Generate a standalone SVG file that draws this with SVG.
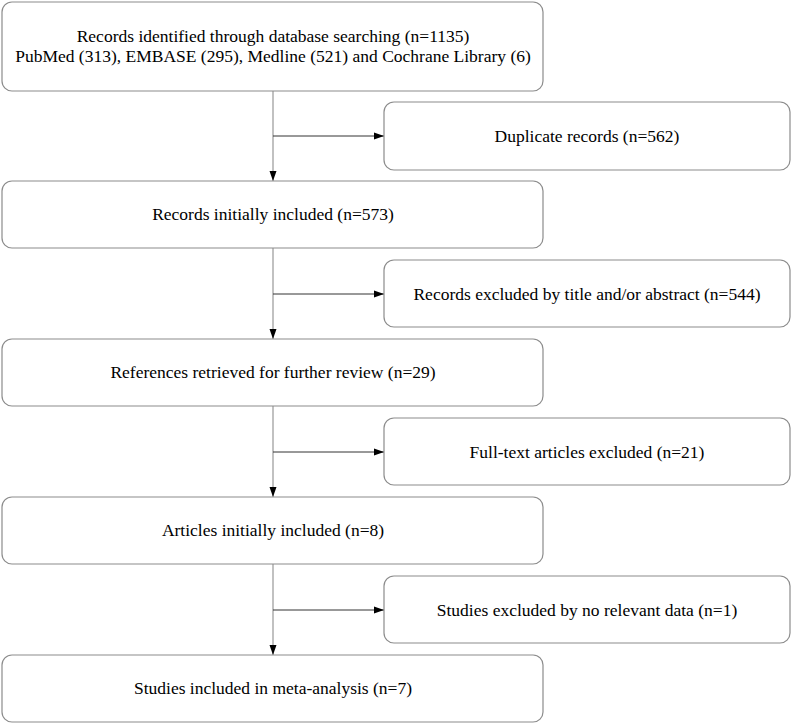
<svg xmlns="http://www.w3.org/2000/svg" width="792" height="724" viewBox="0 0 792 724">
<style>
.box{fill:#fff;stroke:#8c8c8c;stroke-width:1.2}
.t{font-family:"Liberation Serif","Times New Roman",serif;font-size:17.5px;fill:#000;text-anchor:middle}
.c{stroke:#333;stroke-width:1;fill:none}
.v{stroke:#a0a0a0;stroke-width:1.3;fill:none}
</style>
<defs>
<marker id="ah" markerWidth="10" markerHeight="8" refX="10" refY="4" orient="auto" markerUnits="userSpaceOnUse">
<path d="M0,0.5 L10,4 L0,7.5 Z" fill="#000"/>
</marker>
</defs>
<rect width="792" height="724" fill="#fff"/>
<g id="connectors">
<line class="v" x1="273" y1="91" x2="273" y2="181" marker-end="url(#ah)"/>
<line class="c" x1="273" y1="136" x2="384" y2="136" marker-end="url(#ah)"/>
<line class="v" x1="273" y1="248" x2="273" y2="339" marker-end="url(#ah)"/>
<line class="c" x1="273" y1="294" x2="384" y2="294" marker-end="url(#ah)"/>
<line class="v" x1="273" y1="406" x2="273" y2="497" marker-end="url(#ah)"/>
<line class="c" x1="273" y1="452" x2="384" y2="452" marker-end="url(#ah)"/>
<line class="v" x1="273" y1="564" x2="273" y2="655" marker-end="url(#ah)"/>
<line class="c" x1="273" y1="610" x2="384" y2="610" marker-end="url(#ah)"/>
</g>
<g id="n1"><rect class="box" x="2" y="2" width="541" height="89" rx="10"/>
<text class="t" x="273" y="42">Records identified through database searching (n=1135)</text>
<text class="t" x="273" y="62">PubMed (313), EMBASE (295), Medline (521) and Cochrane Library (6)</text></g>
<g id="n2"><rect class="box" x="384" y="102" width="406" height="68" rx="10"/>
<text class="t" x="587" y="142">Duplicate records (n=562)</text></g>
<g id="n3"><rect class="box" x="2" y="181" width="541" height="67" rx="10"/>
<text class="t" x="273" y="220">Records initially included (n=573)</text></g>
<g id="n4"><rect class="box" x="384" y="260" width="406" height="67" rx="10"/>
<text class="t" x="587" y="300">Records excluded by title and/or abstract (n=544)</text></g>
<g id="n5"><rect class="box" x="2" y="339" width="541" height="67" rx="10"/>
<text class="t" x="273" y="378">References retrieved for further review (n=29)</text></g>
<g id="n6"><rect class="box" x="384" y="418" width="406" height="67" rx="10"/>
<text class="t" x="587" y="458">Full-text articles excluded (n=21)</text></g>
<g id="n7"><rect class="box" x="2" y="497" width="541" height="67" rx="10"/>
<text class="t" x="273" y="536">Articles initially included (n=8)</text></g>
<g id="n8"><rect class="box" x="384" y="576" width="406" height="67" rx="10"/>
<text class="t" x="587" y="616">Studies excluded by no relevant data (n=1)</text></g>
<g id="n9"><rect class="box" x="2" y="655" width="541" height="67" rx="10"/>
<text class="t" x="273" y="694">Studies included in meta-analysis (n=7)</text></g>
</svg>
